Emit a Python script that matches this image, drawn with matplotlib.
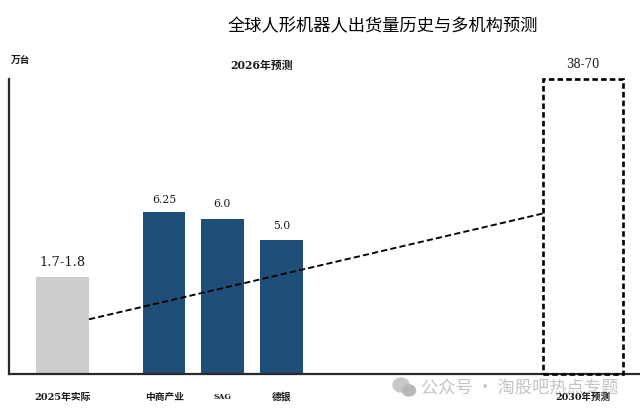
import matplotlib
matplotlib.use("Agg")
import matplotlib.pyplot as plt
from matplotlib.patches import Ellipse

LATIN_CJK = ["DejaVu Serif", "Noto Sans CJK SC"]
CJK = ["Noto Sans CJK SC", "DejaVu Sans"]

title = "全球人形机器人出货量历史与多机构预测"
unit = "万台"
group_label = "2026年预测"
watermark = "公众号 · 淘股吧热点专题"

actual_cat = ["2025年实际"]
actual_heights = [3.73]
actual_labels = ["1.7-1.8"]

forecast_cats = ["中商产业", "SAG", "德银"]
forecast_heights = [6.25, 6.0, 5.18]
forecast_labels = ["6.25", "6.0", "5.0"]

target_cat = ["2030年预测"]
target_heights = [11.41]
target_labels = ["38-70"]

trend_y = [2.1, 6.2]

W, H = 640, 414
fig = plt.figure(figsize=(W / 100, H / 100), dpi=100)
fig.patch.set_facecolor("white")
left, right, bottom, top = 9, 640, 374.5, 80
ax = fig.add_axes([left / W, 1 - bottom / H, (right - left) / W, (bottom - top) / H])
ax.set_xlim(left, right)
ax.set_ylim(0, 11.41)
ax.patch.set_alpha(0)

# bar layout on the pixel-like x scale
ax.bar([62.5], actual_heights, width=53, color="#CCCCCC")
ax.bar([164, 222.5, 281.5], forecast_heights, width=[42, 43, 43], color="#1F4E79")
ax.bar([583], target_heights, width=80, facecolor="none", edgecolor="black",
       linewidth=1.9, linestyle=(0, (2.1, 1.2)), clip_on=False, zorder=3)
ax.plot([89, 543], trend_y, color="black", linewidth=1.35,
        linestyle=(0, (3.3, 1.7)), zorder=4)

for s in ("top", "right"):
    ax.spines[s].set_visible(False)
for s in ("left", "bottom"):
    ax.spines[s].set_linewidth(1.6)
    ax.spines[s].set_color("#2a2a2a")
ax.set_yticks([])
ax.set_xticks([])


def label(x, y, s, size, fam=LATIN_CJK, color="#1a1a1a", weight="normal", z=6):
    fig.text(x / W, 1 - y / H, s, ha="center", va="center", fontsize=size,
             family=fam, color=color, weight=weight, zorder=z)


# watermark
label(520, 388, watermark, 12.4, fam=CJK, color="#c4c4c4", z=2)
icon = fig.add_axes([0, 0, 1, 1], zorder=-1)
icon.set_xlim(0, W)
icon.set_ylim(H, 0)
icon.axis("off")
icon.add_patch(Ellipse((401, 386), 16, 14, color="#c8c8c8"))
icon.add_patch(Ellipse((409, 391.5), 13, 11, color="#b8b8b8"))

label(383, 26, title, 12.4, fam=CJK, color="black")
label(21, 60, unit, 7, fam=CJK, weight="bold")
label(262, 65, group_label, 7.8, weight="bold")

for x, s in zip([62.5], actual_labels):
    label(x, 262, s, 9.4)
for x, y, s in zip([164, 222, 281.5], [200, 204, 226], forecast_labels):
    label(x, y, s, 7.8)
for x, s in zip([583], target_labels):
    label(x, 65, s, 8.4)

label(62.5, 397, actual_cat[0], 7, weight="bold")
for x, s, fs in zip([164.5, 222.5, 281.5], forecast_cats, [7, 5.5, 7]):
    label(x, 397, s, fs, weight="bold")
label(583, 397, target_cat[0], 6.8, weight="bold")

fig.savefig("out.png", dpi=100)
